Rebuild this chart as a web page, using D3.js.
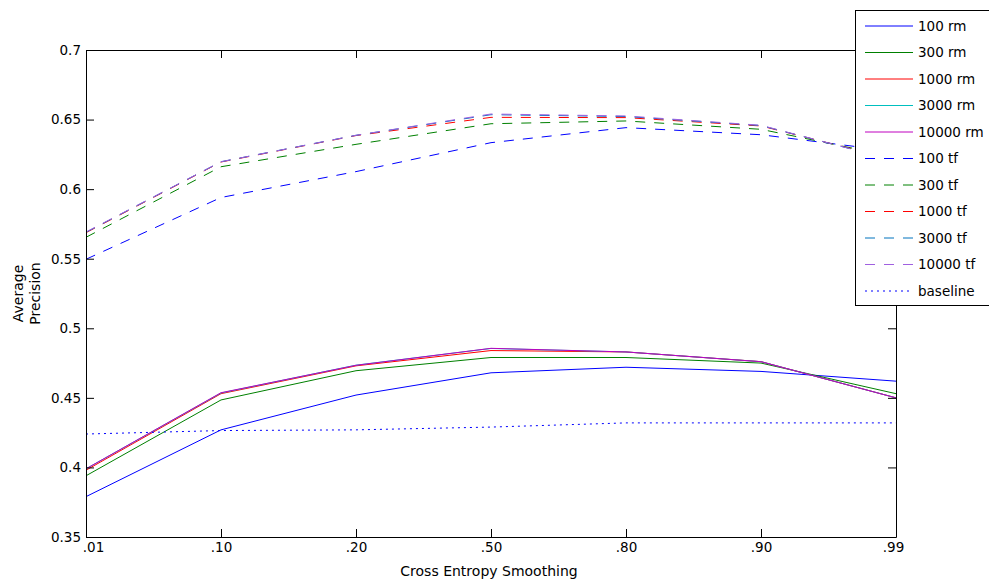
<!DOCTYPE html>
<html>
<head>
<meta charset="utf-8" />
<title>Average Precision vs Cross Entropy Smoothing</title>
<style>
  body { margin: 0; background: #fff; }
  svg text { font-family: "DejaVu Sans", sans-serif; fill: #000; }
</style>
</head>
<body>
<svg id="chart" width="989" height="584"></svg>
<script src="https://d3js.org/d3.v7.min.js"></script>
<script>
// x categories (smoothing values)
var smoothing = [".01", ".10", ".20", ".50", ".80", ".90", ".99"];
var yTicks = [0.35, 0.4, 0.45, 0.5, 0.55, 0.6, 0.65, 0.7];

// rm runs
var rm100   = [0.379, 0.427, 0.452, 0.468, 0.472, 0.469, 0.462];
var rm300   = [0.394, 0.4485, 0.4695, 0.479, 0.479, 0.475, 0.453];
var rm1000  = [0.398, 0.453, 0.473, 0.484, 0.483, 0.476, 0.450];
var rm3000  = [0.399, 0.4535, 0.4735, 0.4855, 0.483, 0.476, 0.450];
var rm10000 = [0.399, 0.4537, 0.4734, 0.4856, 0.483, 0.476, 0.450];

// tf runs
var tf100   = [0.5496, 0.594, 0.6126, 0.6334, 0.6442, 0.6391, 0.627];
var tf300   = [0.5654, 0.6161, 0.6322, 0.647, 0.649, 0.643, 0.623];
var tf1000  = [0.5687, 0.6195, 0.6385, 0.6516, 0.6514, 0.6454, 0.621];
var tf3000  = [0.569, 0.6197, 0.6387, 0.6535, 0.6522, 0.6457, 0.6205];
var tf10000 = [0.5692, 0.6197, 0.6387, 0.654, 0.6526, 0.6459, 0.6204];

var baseline = [0.424, 0.4265, 0.427, 0.429, 0.432, 0.432, 0.432];

var seriesNames = ["100 rm", "300 rm", "1000 rm", "3000 rm", "10000 rm",
                   "100 tf", "300 tf", "1000 tf", "3000 tf", "10000 tf", "baseline"];
var seriesValues = [rm100, rm300, rm1000, rm3000, rm10000,
                    tf100, tf300, tf1000, tf3000, tf10000, baseline];
var colors = ["#0000ff", "#008000", "#ff0000", "#00bfbf", "#bf00bf",
              "#0000ff", "#008000", "#ff0000", "#0072bd", "#a060e0", "#0000ff"];
var dashes = [null, null, null, null, null,
              "10,9", "10,9", "10,9", "10,9", "10,9", "2,4"];

var svg = d3.select("#chart");
var plotLeft = 86, plotRight = 896, plotTop = 50, plotBottom = 537;

var x = d3.scalePoint().domain(smoothing).range([plotLeft, plotRight]);
var y = d3.scaleLinear().domain([0.35, 0.7]).range([plotBottom, plotTop]);

// lines
var line = d3.line()
  .x(function(d, i) { return x(smoothing[i]); })
  .y(function(d) { return y(d); });

seriesValues.forEach(function(vals, k) {
  svg.append("path")
    .attr("d", line(vals))
    .attr("fill", "none")
    .attr("stroke", colors[k])
    .attr("stroke-width", 1)
    .attr("stroke-dasharray", dashes[k]);
});

// axes (matlab style box, ticks pointing inward)
var fmt = function(d) { return String(+d.toFixed(2)); };

var gx = svg.append("g").attr("transform", "translate(0," + plotBottom + ")")
  .call(d3.axisBottom(x).tickSizeInner(-8).tickSizeOuter(0).tickPadding(5));
svg.append("g").attr("transform", "translate(0," + plotTop + ")")
  .call(d3.axisTop(x).tickSizeInner(-8).tickSizeOuter(0).tickFormat(""));
var gy = svg.append("g").attr("transform", "translate(" + plotLeft + ",0)")
  .call(d3.axisLeft(y).tickValues(yTicks).tickFormat(fmt)
    .tickSizeInner(-8).tickSizeOuter(0).tickPadding(5));
svg.append("g").attr("transform", "translate(" + plotRight + ",0)")
  .call(d3.axisRight(y).tickValues(yTicks).tickFormat("")
    .tickSizeInner(-8).tickSizeOuter(0));

svg.selectAll(".domain, .tick line").attr("stroke", "#000");
svg.selectAll(".tick text").attr("font-size", "13.5px")
  .style("font-family", "DejaVu Sans, sans-serif");

// matlab nudges the outer x labels
gx.selectAll(".tick text").attr("dx", function(d, i) {
  return i == 0 ? 7 : (i == smoothing.length - 1 ? -3 : 0);
});

// axis titles
svg.append("text")
  .attr("x", (plotLeft + plotRight) / 2 - 2)
  .attr("y", 576)
  .attr("text-anchor", "middle")
  .attr("font-size", "14px")
  .text("Cross Entropy Smoothing");

var yl = svg.append("text")
  .attr("transform", "translate(23," + ((plotTop + plotBottom) / 2) + ") rotate(-90)")
  .attr("text-anchor", "middle")
  .attr("font-size", "14px");
yl.append("tspan").attr("x", 0).attr("dy", 0).text("Average");
yl.append("tspan").attr("x", 0).attr("dy", 17).text("Precision");

// legend
var lg = svg.append("g").attr("transform", "translate(855,10)");
lg.append("rect")
  .attr("x", 0.5).attr("y", 0.5)
  .attr("width", 200).attr("height", 295)
  .attr("fill", "#fff").attr("stroke", "#000");

var rows = lg.selectAll("g.row").data(seriesNames).enter().append("g")
  .attr("class", "row")
  .attr("transform", function(d, i) { return "translate(0," + (16 + i * 26.5) + ")"; });

rows.append("line")
  .attr("x1", 10).attr("x2", 58)
  .attr("stroke", function(d, i) { return colors[i]; })
  .attr("stroke-dasharray", function(d, i) { return dashes[i]; });

rows.append("text")
  .attr("x", 63).attr("dy", "0.35em")
  .attr("font-size", "13.5px")
  .text(function(d) { return d; });
</script>
</body>
</html>
